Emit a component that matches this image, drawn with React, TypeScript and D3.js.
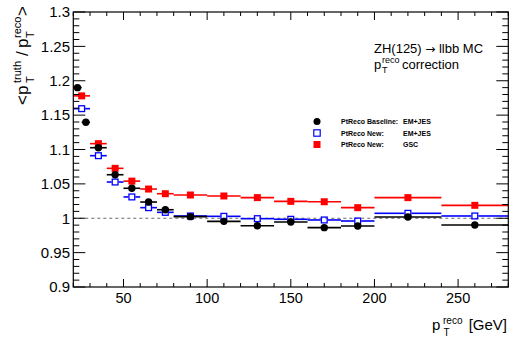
import React from "react";
import * as d3 from "d3";

const edgesNew = [20, 30, 40, 50, 60, 70, 80, 100, 120, 140, 160, 180, 200, 240, 280];
const edgesBase = [20, 25, 30, 40, 50, 60, 70, 80, 100, 120, 140, 160, 180, 200, 240, 280];

const baselineEMJES = [1.19, 1.1396, 1.1026, 1.0633, 1.0436, 1.0236, 1.0124, 1.0023, 0.9955, 0.9892, 0.9945, 0.9863, 0.9887, 1.0018, 0.9902];
const newEMJES = [1.1594, 1.091, 1.0527, 1.031, 1.0154, 1.0086, 1.0033, 1.0028, 0.9994, 0.9985, 0.9975, 0.996, 1.0072, 1.0033];
const newGSC = [1.178, 1.1085, 1.0726, 1.054, 1.0425, 1.0357, 1.0338, 1.0324, 1.03, 1.0246, 1.024, 1.0154, 1.03, 1.0188];

const xMajorTicks = [50, 100, 150, 200, 250];
const yMajorTicks = [0.9, 0.95, 1.0, 1.05, 1.1, 1.15, 1.2, 1.25, 1.3];
const yTickLabels = ["0.9", "0.95", "1", "1.05", "1.1", "1.15", "1.2", "1.25", "1.3"];

const W = 510, H = 337;
const L = 73.3, R = 508.3, T = 12, B = 287;
const FONT = "'Liberation Sans', Arial, Helvetica, sans-serif";

export default function App() {
  const x = d3.scaleLinear().domain([20, 280]).range([L, R]);
  const y = d3.scaleLinear().domain([0.9, 1.3]).range([B, T]);

  const xMinor = d3.range(20, 281, 10).filter((v) => v % 50 !== 0);
  const yMinor = d3.range(0, 41).map((i) => 0.9 + i * 0.01).filter((_, i) => i % 5 !== 0);

  const bins = (edges: number[], vals: number[]) =>
    vals.map((v, i) => ({ lo: edges[i], hi: edges[i + 1], c: (edges[i] + edges[i + 1]) / 2, v }));

  const red = bins(edgesNew, newGSC);
  const blue = bins(edgesNew, newEMJES);
  const black = bins(edgesBase, baselineEMJES);

  const ms = 7;

  return (
    <svg width={W} height={H} style={{ position: "absolute", left: 0, top: 0, background: "#fff" }} fontFamily={FONT}>
      <rect x={0} y={0} width={W} height={H} fill="#fff" />
      {/* dashed line at 1 */}
      <line x1={L} x2={R} y1={y(1)} y2={y(1)} stroke="#444" strokeWidth={0.8} strokeDasharray="3,3" />

      {/* red GSC */}
      <g>
        {red.map((d, i) => (
          <g key={"r" + i}>
            <line x1={x(d.lo)} x2={x(d.hi)} y1={y(d.v)} y2={y(d.v)} stroke="#ff0000" strokeWidth={1.6} />
            <rect x={x(d.c) - ms / 2} y={y(d.v) - ms / 2} width={ms} height={ms} fill="#ff0000" />
          </g>
        ))}
      </g>
      {/* blue EM+JES new */}
      <g>
        {blue.map((d, i) => (
          <g key={"b" + i}>
            <line x1={x(d.lo)} x2={x(d.c) - ms / 2} y1={y(d.v)} y2={y(d.v)} stroke="#0000ff" strokeWidth={1.6} />
            <line x1={x(d.c) + ms / 2} x2={x(d.hi)} y1={y(d.v)} y2={y(d.v)} stroke="#0000ff" strokeWidth={1.6} />
            <rect x={x(d.c) - ms / 2 + 0.6} y={y(d.v) - ms / 2 + 0.6} width={ms - 1.2} height={ms - 1.2} fill="none" stroke="#0000ff" strokeWidth={1.3} />
          </g>
        ))}
      </g>
      {/* black baseline */}
      <g>
        {black.map((d, i) => (
          <g key={"k" + i}>
            <line x1={x(d.lo)} x2={x(d.hi)} y1={y(d.v)} y2={y(d.v)} stroke="#000" strokeWidth={1.6} />
            <circle cx={x(d.c)} cy={y(d.v)} r={3.7} fill="#000" />
          </g>
        ))}
      </g>

      {/* frame */}
      <rect x={L} y={T} width={R - L} height={B - T} fill="none" stroke="#000" strokeWidth={1.2} />

      {/* x ticks */}
      {xMajorTicks.map((t) => (
        <g key={"xm" + t}>
          <line x1={x(t)} x2={x(t)} y1={B} y2={B - 8} stroke="#000" strokeWidth={1} />
          <line x1={x(t)} x2={x(t)} y1={T} y2={T + 8} stroke="#000" strokeWidth={1} />
          <text x={x(t)} y={303} textAnchor="middle" fontSize={14.5} fill="#000">{t}</text>
        </g>
      ))}
      {xMinor.map((t) => (
        <g key={"xn" + t}>
          <line x1={x(t)} x2={x(t)} y1={B} y2={B - 4} stroke="#000" strokeWidth={1} />
          <line x1={x(t)} x2={x(t)} y1={T} y2={T + 4} stroke="#000" strokeWidth={1} />
        </g>
      ))}

      {/* y ticks */}
      {yMajorTicks.map((t, i) => (
        <g key={"ym" + i}>
          <line x1={L} x2={L + 12} y1={y(t)} y2={y(t)} stroke="#000" strokeWidth={1} />
          <line x1={R} x2={R - 12} y1={y(t)} y2={y(t)} stroke="#000" strokeWidth={1} />
          <text x={70} y={y(t) + 5.3} textAnchor="end" fontSize={15} fill="#000">{yTickLabels[i]}</text>
        </g>
      ))}
      {yMinor.map((t, i) => (
        <g key={"yn" + i}>
          <line x1={L} x2={L + 6} y1={y(t)} y2={y(t)} stroke="#000" strokeWidth={1} />
          <line x1={R} x2={R - 6} y1={y(t)} y2={y(t)} stroke="#000" strokeWidth={1} />
        </g>
      ))}

      {/* x title */}
      <g fontSize={15} fill="#000">
        <text x={432} y={330}>p</text>
        <text x={443} y={324} fontSize={10}>reco</text>
        <text x={443.5} y={336} fontSize={10}>T</text>
        <text x={507} y={330} textAnchor="end">[GeV]</text>
      </g>

      {/* y title */}
      <g transform="translate(28,105) rotate(-90)" fontSize={17} fill="#000">
        <text x={0} y={0}>&lt;p</text>
        <text x={22} y={-7} fontSize={11}>truth</text>
        <text x={22} y={6} fontSize={11}>T</text>
        <text x={49} y={0}>/</text>
        <text x={57} y={0}>p</text>
        <text x={67} y={-7} fontSize={11}>reco</text>
        <text x={67} y={6} fontSize={11}>T</text>
        <text x={89} y={0}>&gt;</text>
      </g>

      {/* annotation */}
      <g fontSize={13} fill="#000">
        <text x={374} y={53}>ZH(125) <tspan fontFamily="'DejaVu Sans', sans-serif" fontSize={12}>→</tspan> llbb MC</text>
        <text x={374} y={69}>p</text>
        <text x={382} y={63} fontSize={9}>reco</text>
        <text x={382} y={73} fontSize={9}>T</text>
        <text x={402} y={69}>correction</text>
      </g>

      {/* legend */}
      <g fontSize={7} fontWeight="bold" fill="#000">
        <circle cx={317} cy={121.5} r={3.5} fill="#000" />
        <text x={341} y={124}>PtReco Baseline:</text>
        <text x={403} y={124}>EM+JES</text>
        <rect x={317 - 3.2} y={133 - 3.2} width={6.4} height={6.4} fill="none" stroke="#0000ff" strokeWidth={1.2} />
        <text x={341} y={135.5}>PtReco New:</text>
        <text x={403} y={135.5}>EM+JES</text>
        <rect x={317 - 3.5} y={144.5 - 3.5} width={7} height={7} fill="#ff0000" />
        <text x={341} y={147}>PtReco New:</text>
        <text x={403} y={147}>GSC</text>
      </g>
    </svg>
  );
}
